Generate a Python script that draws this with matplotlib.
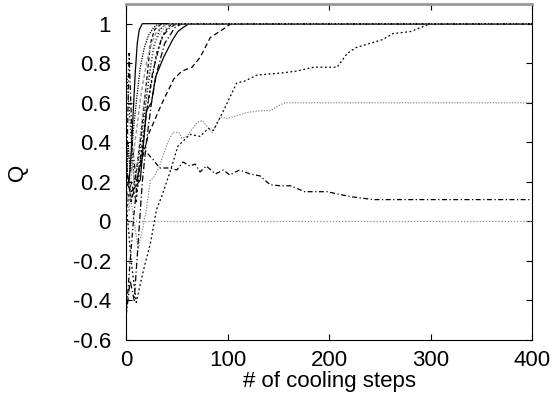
import numpy as np
import matplotlib.pyplot as plt

plt.rcParams['font.family'] = ['Liberation Sans', 'DejaVu Sans']

# trajectories of Q vs number of cooling steps
x_zero = [0, 400]
q_zero = [0, 0]

x_gray06 = [0, 5, 12, 20, 24, 27, 33, 41, 46, 52, 55, 60, 70, 75, 80, 85, 93, 99, 119, 132, 142, 152, 157, 400]
q_gray06 = [0.30, 0.10, -0.14, 0.06, 0.21, 0.22, 0.28, 0.40, 0.45, 0.45, 0.42, 0.43, 0.50, 0.51,
            0.48, 0.45, 0.53, 0.52, 0.55, 0.56, 0.56, 0.59, 0.60, 0.60]

x_slow = [0, 5, 10, 17, 24, 30, 35, 43, 51, 63, 73, 81, 86, 96, 109, 117, 129, 152, 168, 185, 208,
          218, 227, 253, 263, 280, 300, 400]
q_slow = [0.10, -0.20, -0.41, -0.25, -0.11, 0.06, 0.125, 0.245, 0.38, 0.44, 0.43, 0.47, 0.46, 0.56,
          0.70, 0.71, 0.74, 0.75, 0.76, 0.78, 0.78, 0.85, 0.88, 0.92, 0.95, 0.96, 1.0, 1.0]

x_low = [0, 4, 8, 12, 16, 20, 27, 33, 43, 50, 56, 63, 68, 73, 79, 88, 96, 102, 112, 122, 132, 142,
         152, 162, 176, 198, 221, 244, 400]
q_low = [-0.48, -0.20, 0.05, 0.25, 0.38, 0.35, 0.31, 0.27, 0.27, 0.26, 0.30, 0.28, 0.29, 0.25, 0.28,
         0.24, 0.26, 0.235, 0.26, 0.24, 0.23, 0.185, 0.18, 0.18, 0.15, 0.15, 0.125, 0.11, 0.11]

x_d105 = [0, 5, 10, 15, 22, 28, 33, 37, 47, 55, 60, 65, 73, 79, 83, 89, 95, 102, 105, 400]
q_d105 = [0.15, 0.10, 0.20, 0.30, 0.44, 0.51, 0.57, 0.615, 0.72, 0.76, 0.77, 0.78, 0.83, 0.89,
          0.93, 0.95, 0.97, 0.995, 1.0, 1.0]

x_s62 = [0, 5, 10, 14, 20, 25, 29, 37, 46, 51, 56, 62, 400]
q_s62 = [0.20, 0.15, 0.18, 0.21, 0.56, 0.60, 0.73, 0.83, 0.92, 0.96, 0.98, 1.0, 1.0]

x_s16 = [0, 3, 5, 7, 9, 11, 13, 16, 400]
q_s16 = [0.25, 0.20, 0.35, 0.55, 0.75, 0.90, 0.97, 1.0, 1.0]

x_f1 = [0, 5, 10, 15, 20, 24, 28, 35, 400]
q_f1 = [0.30, 0.10, 0.25, 0.45, 0.70, 0.90, 0.97, 1.0, 1.0]

x_f2 = [0, 4, 8, 12, 17, 22, 27, 33, 40, 400]
q_f2 = [0.80, 0.50, 0.20, 0.30, 0.50, 0.70, 0.88, 0.97, 1.0, 1.0]

x_f3 = [0, 3, 6, 10, 15, 20, 26, 35, 43, 50, 400]
q_f3 = [0.10, 0.85, 0.40, 0.20, 0.30, 0.55, 0.75, 0.93, 0.98, 1.0, 1.0]

x_f4 = [0, 5, 10, 15, 20, 25, 30, 38, 45, 400]
q_f4 = [0.05, 0.20, 0.10, 0.35, 0.55, 0.70, 0.85, 0.96, 1.0, 1.0]

x_f5 = [0, 4, 8, 12, 16, 20, 25, 30, 38, 48, 55, 400]
q_f5 = [-0.48, -0.30, -0.40, -0.10, 0.20, 0.40, 0.60, 0.75, 0.90, 0.98, 1.0, 1.0]

x_f6 = [0, 5, 10, 15, 20, 25, 30, 40, 400]
q_f6 = [0.40, 0.25, 0.45, 0.65, 0.80, 0.90, 0.96, 1.0, 1.0]

x_f7 = [0, 2, 4, 7, 10, 14, 18, 22, 27, 32, 400]
q_f7 = [0.15, 0.40, 0.25, 0.45, 0.60, 0.78, 0.88, 0.94, 0.98, 1.0, 1.0]

x_f8 = [0, 3, 6, 9, 13, 18, 24, 30, 36, 44, 400]
q_f8 = [0.20, 0.05, 0.30, 0.15, 0.40, 0.62, 0.80, 0.92, 0.97, 1.0, 1.0]

xticks = [0, 100, 200, 300, 400]
yticks = [-0.6, -0.4, -0.2, 0, 0.2, 0.4, 0.6, 0.8, 1]
ytick_labels = ['-0.6', '-0.4', '-0.2', '0', '0.2', '0.4', '0.6', '0.8', '1']

fig = plt.figure(figsize=(5.53, 3.93), dpi=100)
ax = fig.add_axes([0.228, 0.135, 0.734, 0.855])

gray = '#8c8c8c'
lw = 0.9
ax.plot(x_zero, q_zero, color=gray, lw=lw, ls=(0, (1, 1.5)))
ax.plot(x_gray06, q_gray06, color=gray, lw=lw, ls=(0, (1, 1.2)))
ax.plot(x_slow, q_slow, color='k', lw=lw, ls=(0, (1.5, 2)))
ax.plot(x_low, q_low, color='k', lw=lw, ls=(0, (4, 2, 1, 2)))
ax.plot(x_d105, q_d105, color='k', lw=lw, ls=(0, (4, 2.5)))
ax.plot(x_s62, q_s62, color='k', lw=lw, ls='-')
ax.plot(x_s16, q_s16, color='k', lw=lw, ls='-')
ax.plot(x_f1, q_f1, color='k', lw=lw, ls=(0, (3, 2)))
ax.plot(x_f2, q_f2, color='k', lw=lw, ls=(0, (1, 1.5)))
ax.plot(x_f3, q_f3, color='k', lw=lw, ls=(0, (4, 2, 1, 2)))
ax.plot(x_f4, q_f4, color='k', lw=lw, ls=(0, (2, 2)))
ax.plot(x_f5, q_f5, color='k', lw=lw, ls=(0, (5, 2, 1, 2)))
ax.plot(x_f6, q_f6, color=gray, lw=lw, ls=(0, (3, 2)))
ax.plot(x_f7, q_f7, color='k', lw=lw, ls=(0, (1, 1)))
ax.plot(x_f8, q_f8, color=gray, lw=lw, ls=(0, (1, 1.5)))

ax.set_xlim(0, 400)
ax.set_ylim(-0.6, 1.1)
ax.set_xticks(xticks)
ax.set_yticks(yticks)
ax.set_yticklabels(ytick_labels)

ax.tick_params(direction='in', top=True, right=True, length=4, width=0.8, labelsize=16)
ax.tick_params(axis='x', pad=7)
ax.tick_params(axis='y', pad=11)
ax.spines['top'].set_color('#999999')
ax.spines['top'].set_linewidth(2)

ax.set_xlabel('# of cooling steps', fontsize=16, labelpad=0.5)
ax.set_ylabel('Q', fontsize=16, labelpad=32)

fig.savefig('out.png', dpi=100)
